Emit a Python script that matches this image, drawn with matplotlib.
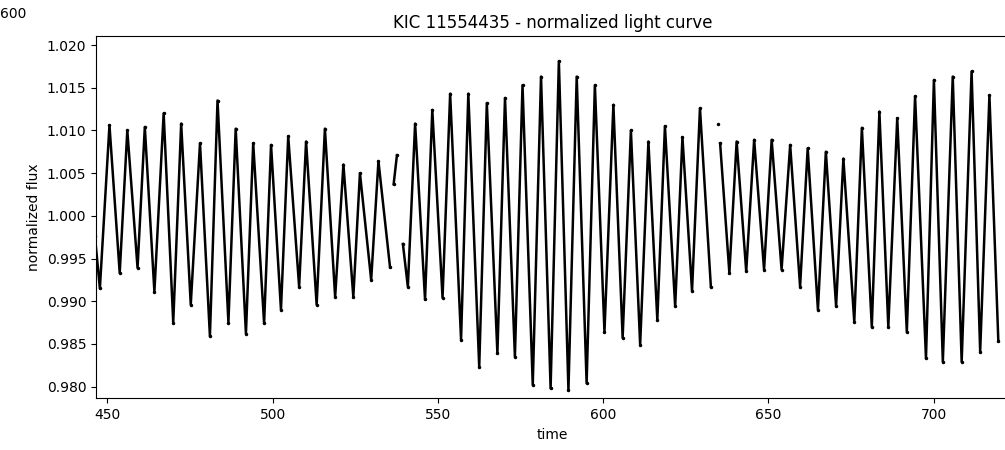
# KIC 11554435 light curve, redrawn from read-off extrema
import numpy as np
import matplotlib
matplotlib.use("Agg")
import matplotlib.pyplot as plt

nan = np.nan

# === Data (peaks and troughs, nan = gap) ===
time = [446.2, 447.7, 450.6, 453.7, 456.0, 459.1, 461.3, 464.2, 467.0, 469.9,
        472.3, 475.2, 478.0, 481.0, 483.3, 486.6, 488.8, 491.9, 494.1, 497.4,
        499.5, 502.5, 504.7, 508.0, 510.1, 513.3, 515.8, 518.9, 521.4, 524.4,
        526.4, 529.8, 532.0, 535.5, nan, 536.6, 537.6, nan, 539.4, 540.9,
        543.1, 546.1, 548.3, 551.4, 553.7, 557.0, 559.2, 562.5, 564.8, 568.0,
        570.3, 573.3, 575.6, 578.7, 581.2, 584.1, 586.6, 589.5, 592.0, 595.0,
        597.5, 600.4, 603.1, 605.9, 608.4, 611.2, 613.7, 616.4, 618.7, 621.8,
        624.0, 626.9, 629.3, 632.6, nan, 634.9, nan, 635.4, 638.2, 640.4,
        643.3, 645.7, 648.7, 651.0, 654.0, 656.6, 659.6, 661.9, 665.0, 667.4,
        670.5, 672.7, 676.0, 678.3, 681.3, 683.6, 686.3, 689.0, 691.9, 694.4,
        697.7, 700.1, 702.8, 705.8, 708.5, 711.5, 714.1, 716.9, 719.6]

flux = [0.9976, 0.9915, 1.0106, 0.9933, 1.0100, 0.9939, 1.0104, 0.9911, 1.0120, 0.9875,
        1.0108, 0.9896, 1.0085, 0.9859, 1.0135, 0.9875, 1.0102, 0.9862, 1.0085, 0.9874,
        1.0083, 0.9890, 1.0093, 0.9917, 1.0087, 0.9896, 1.0102, 0.9905, 1.0060, 0.9905,
        1.0050, 0.9925, 1.0064, 0.9940, nan, 1.0037, 1.0071, nan, 0.9967, 0.9917,
        1.0108, 0.9902, 1.0124, 0.9904, 1.0143, 0.9855, 1.0143, 0.9823, 1.0132, 0.9839,
        1.0138, 0.9835, 1.0153, 0.9802, 1.0163, 0.9798, 1.0181, 0.9796, 1.0163, 0.9804,
        1.0153, 0.9864, 1.0130, 0.9857, 1.0100, 0.9849, 1.0087, 0.9878, 1.0105, 0.9894,
        1.0092, 0.9912, 1.0126, 0.9917, nan, 1.0108, nan, 1.0085, 0.9933, 1.0087,
        0.9935, 1.0089, 0.9937, 1.0089, 0.9937, 1.0083, 0.9917, 1.0079, 0.9890, 1.0075,
        0.9894, 1.0067, 0.9876, 1.0103, 0.9870, 1.0122, 0.9870, 1.0114, 0.9864, 1.0140,
        0.9833, 1.0159, 0.9829, 1.0163, 0.9829, 1.0169, 0.9841, 1.0141, 0.9853]

# === Plot ===
fig = plt.figure(figsize=(10.05, 4.5), dpi=100)
ax = fig.add_axes([0.0956, 0.1149, 0.9083, 0.805])

ax.plot(time, flux, color='black', lw=1.8, marker='.', ms=3)

ax.set_xlim(446.55, 722.8)
ax.set_ylim(0.97863, 1.02105)
ax.set_xticks([450, 500, 550, 600, 650, 700])
ax.set_yticks([0.980, 0.985, 0.990, 0.995, 1.000, 1.005, 1.010, 1.015, 1.020])
ax.ticklabel_format(axis='y', useOffset=False)
ax.set_title("KIC 11554435 - normalized light curve")
ax.set_xlabel("time")
ax.set_ylabel("normalized flux")

# leftover tick label of a figure above
fig.text(0.0, 1 - 14 / 450, "600", ha='left', va='center', fontsize=10)

fig.savefig("out.png", dpi=100)
